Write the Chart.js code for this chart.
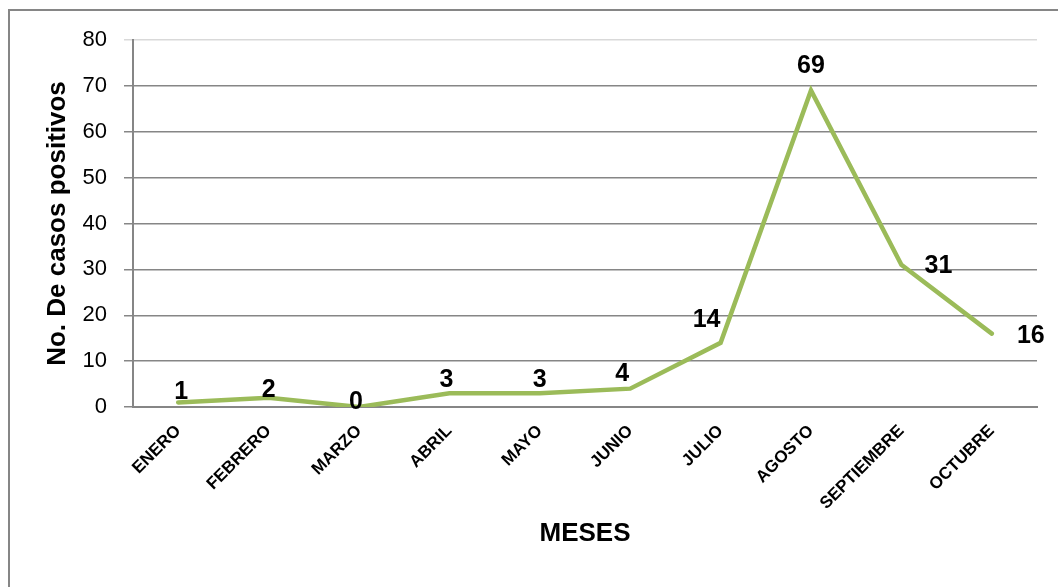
<!DOCTYPE html>
<html>
<head>
<meta charset="utf-8">
<script src="https://cdn.jsdelivr.net/npm/chart.js@4.4.1/dist/chart.umd.min.js"></script>
<style>
  html, body { margin: 0; padding: 0; background: #fff; }
  .chart-box { position: relative; width: 1058px; height: 587px; }
</style>
</head>
<body>
<div class="chart-box"><canvas class="casos-chart"></canvas></div>
<script>
const meses = ['ENERO', 'FEBRERO', 'MARZO', 'ABRIL', 'MAYO', 'JUNIO', 'JULIO', 'AGOSTO', 'SEPTIEMBRE', 'OCTUBRE'];
const casosPositivos = [1, 2, 0, 3, 3, 4, 14, 69, 31, 16];
const yTicks = [0, 10, 20, 30, 40, 50, 60, 70, 80];

// where each value label sits relative to its point (dx, dy from the point)
const labelNudge = [[3, -10], [0, -8], [-3, -5], [-3, -13], [0, -13], [-8, -15], [-14, -23], [0, -24], [37, 1], [39, 3]];

const lineColor = '#9bbb59';
const axisGray = '#868686';
const fontFamily = '"Liberation Sans", Arial, sans-serif';

// outer frame around the whole chart
const framePlugin = {
    id: 'frame',
    beforeDraw(chart) {
        const ctx = chart.ctx;
        ctx.save();
        ctx.strokeStyle = axisGray;
        ctx.lineWidth = 2;
        ctx.strokeRect(9, 10, chart.width + 20, chart.height + 20);
        ctx.restore();
    }
};

// bold numbers next to every point
const valueLabels = {
    id: 'valueLabels',
    afterDatasetsDraw(chart) {
        const ctx = chart.ctx;
        const meta = chart.getDatasetMeta(0);
        const values = chart.data.datasets[0].data;
        ctx.save();
        ctx.font = 'bold 25px ' + fontFamily;
        ctx.fillStyle = '#000';
        ctx.textAlign = 'center';
        ctx.textBaseline = 'middle';
        meta.data.forEach((pt, i) => {
            const [dx, dy] = labelNudge[i];
            ctx.fillText(String(values[i]), pt.x + dx, pt.y + dy);
        });
        ctx.restore();
    }
};

function createChart() {
    const ctx = document.querySelector('.casos-chart').getContext('2d');
    return new Chart(ctx, {
        type: 'line',
        data: {
            labels: meses,
            datasets: [
                {
                    label: 'Casos positivos',
                    data: casosPositivos,
                    borderColor: lineColor,
                    backgroundColor: lineColor,
                    borderWidth: 4.5,
                    pointRadius: 0,
                    tension: 0,
                    borderJoinStyle: 'miter',
                    borderCapStyle: 'round',
                }
            ]
        },
        options: {
            responsive: true,
            maintainAspectRatio: false,
            animation: false,
            layout: {
                padding: { top: 40, right: 21, left: 0, bottom: 0 }
            },
            plugins: {
                legend: { display: false },
                tooltip: { enabled: false },
            },
            scales: {
                x: {
                    offset: true,
                    grid: { display: false },
                    border: { color: axisGray, width: 2 },
                    ticks: {
                        color: '#000',
                        maxRotation: 45,
                        minRotation: 45,
                        padding: 6,
                        font: { family: fontFamily, size: 17, weight: 'bold' },
                    },
                    title: {
                        display: true,
                        text: 'MESES',
                        color: '#000',
                        padding: { top: 38, bottom: 38 },
                        font: { family: fontFamily, size: 26, weight: 'bold' },
                    },
                    afterFit(scale) { scale.height = 180; },
                },
                y: {
                    min: 0,
                    max: 80,
                    afterBuildTicks(scale) { scale.ticks = yTicks.map(v => ({ value: v })); },
                    grid: {
                        color: c => c.tick && c.tick.value === 80 ? '#d9d9d9' : axisGray,
                        lineWidth: 1.5,
                        tickLength: 9,
                    },
                    border: { color: axisGray, width: 2 },
                    ticks: {
                        color: '#000',
                        padding: 17,
                        font: { family: fontFamily, size: 22 },
                    },
                    title: {
                        display: true,
                        text: 'No. De casos positivos',
                        color: '#000',
                        padding: { top: 42, bottom: 0 },
                        font: { family: fontFamily, size: 26, weight: 'bold' },
                    },
                    afterFit(scale) { scale.width = 133; },
                }
            }
        },
        plugins: [framePlugin, valueLabels]
    });
}

const casosChart = createChart();
</script>
</body>
</html>
